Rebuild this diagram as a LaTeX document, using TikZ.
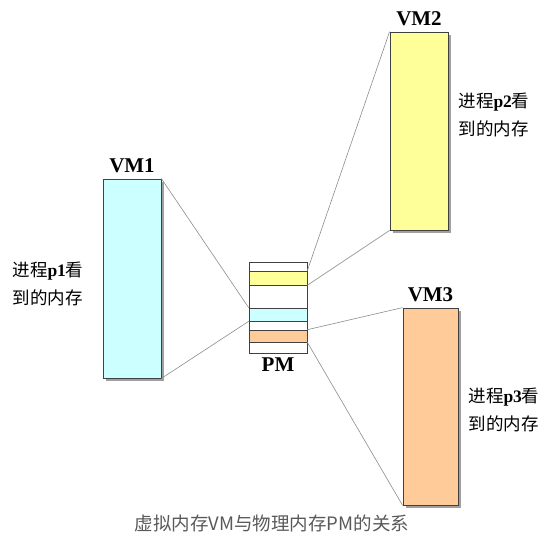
\documentclass[tikz,border=0pt]{standalone}
\usepackage{fontspec}
\setmainfont{Liberation Serif}
\newfontfamily\cjk{Noto Sans CJK SC}
\usetikzlibrary{backgrounds}
\definecolor{vmcyan}{HTML}{CCFFFF}
\definecolor{vmyellow}{HTML}{FFFF99}
\definecolor{vmorange}{HTML}{FFCC99}
\definecolor{linkgray}{HTML}{8C8C8C}
\definecolor{shadegray}{HTML}{A0A0A0}
\begin{document}
\begin{tikzpicture}
        [x=1pt,y=-1pt,
        vm/.style={rectangle,inner sep=0pt,minimum width=58pt,draw=black!75,line width=0.8pt,
            label={[font=\fontsize{21}{21}\selectfont\bfseries,inner sep=3pt,label distance=3pt]above:#1}},
        band/.style={rectangle,inner sep=0pt,minimum width=58pt,draw=black!75,line width=0.6pt},
        line/.style={draw=linkgray,line width=0.6pt},
        vmshadow/.style={fill=shadegray},
        note/.style={font=\fontsize{17.5}{28}\selectfont\cjk,align=left,inner sep=0pt}]
        \useasboundingbox (0,0) rectangle (560,544);
        % virtual memories
        \node[vm=VM1,fill=vmcyan,minimum height=199pt] (vm1) at (132,278.5) {};
        \node[vm=VM2,fill=vmyellow,minimum height=198pt] (vm2) at (419,131) {};
        \node[vm=VM3,fill=vmorange,minimum height=197pt,minimum width=55pt] (vm3) at (430.5,406.5) {};
        \begin{scope}[on background layer]
            \foreach \v in {vm1,vm2,vm3}
                \fill[vmshadow] ([shift={(3,3)}]\v.north west) rectangle ([shift={(3,3)}]\v.south east);
        \end{scope}
        % physical memory
        \node[band,fill=white,minimum height=9pt] (pm1) at (278,266.5) {};
        \node[band,fill=vmyellow,minimum height=14pt] (pm2) at (278,278) {};
        \node[band,fill=white,minimum height=23pt] (pm3) at (278,296.5) {};
        \node[band,fill=vmcyan,minimum height=13pt] (pm4) at (278,314.5) {};
        \node[band,fill=white,minimum height=9pt] (pm5) at (278,325.5) {};
        \node[band,fill=vmorange,minimum height=12pt] (pm6) at (278,336) {};
        \node[band,fill=white,minimum height=11pt,
            label={[font=\fontsize{21}{21}\selectfont\bfseries,inner sep=1pt,label distance=3pt]below:PM}] (pm7) at (278,347.5) {};
        % mappings
        \draw[line] (vm1.north east) -- (pm4.north west);
        \draw[line] (vm1.south east) -- (pm4.south west);
        \draw[line] (vm2.north west) -- (pm2.north east);
        \draw[line] (vm2.south west) -- (pm2.south east);
        \draw[line] (vm3.north west) -- (pm6.north east);
        \draw[line] (vm3.south west) -- (pm6.south east);
        % notes
        \node[note] (p1) at (48,284) {进程\textrm{\bfseries p1}看\\到的内存};
        \node[note] (p2) at (494,115) {进程\textrm{\bfseries p2}看\\到的内存};
        \node[note] (p3) at (504,410) {进程\textrm{\bfseries p3}看\\到的内存};
        \node[font=\fontsize{18.5}{18.5}\selectfont\cjk,text=black!65] (caption) at (272,523) {虚拟内存VM与物理内存PM的关系};
    \end{tikzpicture}
\end{document}
